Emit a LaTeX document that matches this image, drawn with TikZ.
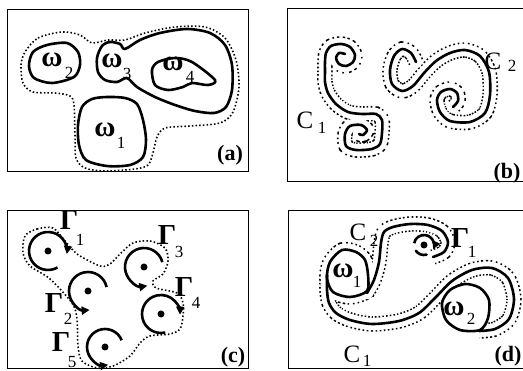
\documentclass[tikz,border=0pt]{standalone}
\usepackage{fontspec}
\setmainfont{Liberation Serif}
\usetikzlibrary{arrows.meta}
\begin{document}
\begin{tikzpicture}[x=1pt,y=-1pt,
  frame/.style={draw=black,line width=1pt},
  curve/.style={draw=black,line width=2.6pt,line join=round,line cap=round},
  dots/.style={draw=black,line width=1.6pt,dash pattern=on 1.5pt off 2.2pt},
  tubeblack/.style={draw=black,line width=15.5pt,dash pattern=on 1.6pt off 2.3pt},
  tubewhite/.style={draw=white,line width=12.3pt,line cap=round,line join=round},
  lab/.style={inner sep=0pt,font=\fontsize{29}{29}\selectfont\bfseries},
  clab/.style={inner sep=0pt,font=\fontsize{25}{25}\selectfont},
  sub/.style={inner sep=0pt,font=\fontsize{17}{17}\selectfont},
  tag/.style={inner sep=0pt,font=\fontsize{22}{22}\selectfont\bfseries},
  vdot/.style={fill=black,circle,inner sep=0pt,minimum size=7pt},
  vort/.style={draw=black,line width=2.6pt,-{Triangle[length=8pt,width=8pt]}}
]
\useasboundingbox (0,0) rectangle (523,371);
\fill[white] (0,0) rectangle (523,371);
% frames
\draw[frame] (7,10) rectangle (248,172);
\draw[frame] (287,9) rectangle (525,182);
\draw[frame] (7,211) rectangle (248,369);
\draw[frame] (288,211) rectangle (525,369);

% ---------------- (a)
\draw[dots] plot[smooth cycle] coordinates {(25,52) (38,38) (62,32) (80,35) (92,43) (108,40) (125,40) (145,33) (175,27) (205,27) (225,38) (236,60) (239,87) (233,112) (220,123) (190,126) (165,128) (157,137) (153,153) (148,165) (135,169) (105,171) (85,168) (76,158) (75,135) (74,105) (70,96) (55,93) (33,92) (23,83) (21,65)};
\draw[curve] plot[smooth cycle] coordinates {(33,52) (47,45) (67,43) (78,52) (80,65) (74,77) (52,83) (34,78) (29,66)};
\draw[curve] plot[smooth cycle] coordinates {(110,42) (120,44) (125,49) (140,40) (160,33) (187,29) (210,33) (225,45) (232,65) (232,90) (226,107) (214,113) (195,111) (175,105) (155,97) (137,87) (127,78) (117,82) (105,80) (98,72) (97,58) (102,46)};
\draw[curve] plot[smooth cycle] coordinates {(152,70) (158,62) (175,58) (192,62) (215,80) (208,85) (192,83) (183,87) (168,90) (155,85)};
\draw[curve] plot[smooth cycle] coordinates {(107,97) (125,98) (137,104) (143,120) (146,140) (143,157) (130,165) (107,166) (86,160) (79,145) (78,125) (82,107) (92,99)};
\node[lab] (wa2) at (52,60) {ω};
\node[sub] (wa2s) at (69,73) {2};
\node[lab] (wa3) at (112,61) {ω};
\node[sub] (wa3s) at (127,74) {3};
\node[lab] (wa4) at (173,64) {ω};
\node[sub] (wa4s) at (190,77) {4};
\node[lab] (wa1) at (105,130) {ω};
\node[sub] (wa1s) at (121,143) {1};
\node[tag] (taga) at (230,155) {(a)};

% ---------------- (b)
\def\bCone{plot[smooth] coordinates {(345,54) (339,53) (336,58) (339,64) (346,66) (353,62) (355,55) (350,47) (341,44) (331,46) (326,53) (325,62) (325,72) (325,82) (328,93) (336,104) (348,112) (362,114) (376,114) (382,120) (382,133) (380,144) (372,149) (356,150) (346,146) (345,134) (350,126) (361,125) (367,130) (363,135) (359,134)}}
\def\bCtwo{plot[smooth] coordinates {(416,62) (411,53) (402,49) (394,56) (390,70) (392,84) (402,91) (413,86) (424,73) (436,61) (450,53) (465,50) (480,56) (489,72) (490,95) (485,113) (470,122) (450,121) (440,112) (437,100) (441,92) (450,89) (457,93) (458,101) (453,107)}}
\draw[tubeblack] \bCone;
\draw[tubeblack] \bCtwo;
\draw[tubewhite] \bCone;
\draw[tubewhite] \bCtwo;
\draw[curve] \bCone;
\draw[curve] \bCtwo;
\node[clab] (cb1) at (305,120) {C};
\node[sub] (cb1s) at (322,128) {1};
\node[clab] (cb2) at (493,61) {C};
\node[sub] (cb2s) at (512,66) {2};
\node[tag] (tagb) at (507,173) {(b)};

% ---------------- (c)
\draw[dots] plot[smooth cycle] coordinates {(25,236) (37,229) (53,228) (65,241) (77,254) (100,266) (110,264) (120,254) (133,243) (150,241) (165,248) (168,261) (163,274) (153,281) (156,288) (177,293) (183,303) (183,316) (180,329) (170,334) (150,336) (140,343) (130,356) (113,366) (97,368) (82,361) (78,346) (77,319) (72,303) (50,279) (30,266) (23,253)};
\coordinate (v1) at (48,251);
\coordinate (v2) at (88,291);
\coordinate (v3) at (144,267);
\coordinate (v4) at (161,314);
\coordinate (v5) at (105,347);
\foreach \v in {v1,v2,v3,v4,v5} {\node[vdot] (dot\v) at (\v) {};}
\draw[vort] (v1) ++(-60:19pt) arc[start angle=-60,end angle=-369,radius=19pt];
\draw[vort] (v2) ++(12:19pt) arc[start angle=12,end angle=275,radius=19pt];
\draw[vort] (v3) ++(15:19pt) arc[start angle=15,end angle=280,radius=19pt];
\draw[vort] (v4) ++(-77:19pt) arc[start angle=-77,end angle=-362,radius=19pt];
\draw[vort] (v5) ++(22:18pt) arc[start angle=22,end angle=280,radius=18pt];
\node[lab] (g1) at (69,220) {Γ};
\node[sub] (g1s) at (80,240) {1};
\node[lab] (g3) at (167,235) {Γ};
\node[sub] (g3s) at (179,252) {3};
\node[lab] (g4) at (184,287) {Γ};
\node[sub] (g4s) at (196,303) {4};
\node[lab] (g2) at (54,303) {Γ};
\node[sub] (g2s) at (68,319) {2};
\node[lab] (g5) at (61,342) {Γ};
\node[sub] (g5s) at (72,362) {5};
\node[tag] (tagc) at (233,357) {(c)};

% ---------------- (d)
\def\dWone{plot[smooth cycle] coordinates {(342,250) (356,252) (365,260) (368,275) (367,291) (350,297) (333,292) (327,278) (330,262)}}
\def\dCone{plot[smooth] coordinates {(327,275) (327,290) (329,303) (336,313) (350,320) (372,324) (399,321) (419,313) (435,298) (452,281) (472,270) (492,268) (508,278) (514,299) (509,319) (495,329) (479,331)}}
\def\dWtwo{plot[smooth cycle] coordinates {(442,303) (450,290) (465,284) (480,288) (489,300) (488,318) (480,330) (460,330) (446,320)}}
\def\dCtwo{plot[smooth] coordinates {(367,293) (374,280) (379,262) (381,243) (384,232) (393,227) (410,224) (428,225) (442,231) (448,242) (444,252) (433,257)}}
\draw[tubeblack] \dWone;
\draw[tubeblack] \dCone;
\draw[tubeblack] \dCtwo;
\draw[tubewhite] \dWone;
\draw[tubewhite] \dCone;
\draw[tubewhite] \dCtwo;
\fill[white] \dWone;
\fill[white] \dWtwo;
\draw[curve] \dWone;
\draw[curve] \dCone;
\draw[curve] \dWtwo;
\draw[curve] \dCtwo;
\coordinate (u1) at (424,245);
\node[vdot] (dotu1) at (u1) {};
\draw[vort] (u1) ++(170:10pt) arc[start angle=170,end angle=-25,radius=10pt];
\draw[curve] (u1) ++(215:10pt) arc[start angle=215,end angle=285,radius=10pt];
\node[clab] (cd2) at (358,232) {C};
\node[sub] (cd2s) at (374,241) {2};
\node[lab] (gd1) at (460,238) {Γ};
\node[sub] (gd1s) at (472,252) {1};
\node[lab] (wd1) at (343,271) {ω};
\node[sub] (wd1s) at (357,282) {1};
\node[lab] (wd2) at (454,309) {ω};
\node[sub] (wd2s) at (471,319) {2};
\node[clab] (cd1) at (352,354) {C};
\node[sub] (cd1s) at (367,361) {1};
\node[tag] (tagd) at (508,356) {(d)};
\end{tikzpicture}
\end{document}
